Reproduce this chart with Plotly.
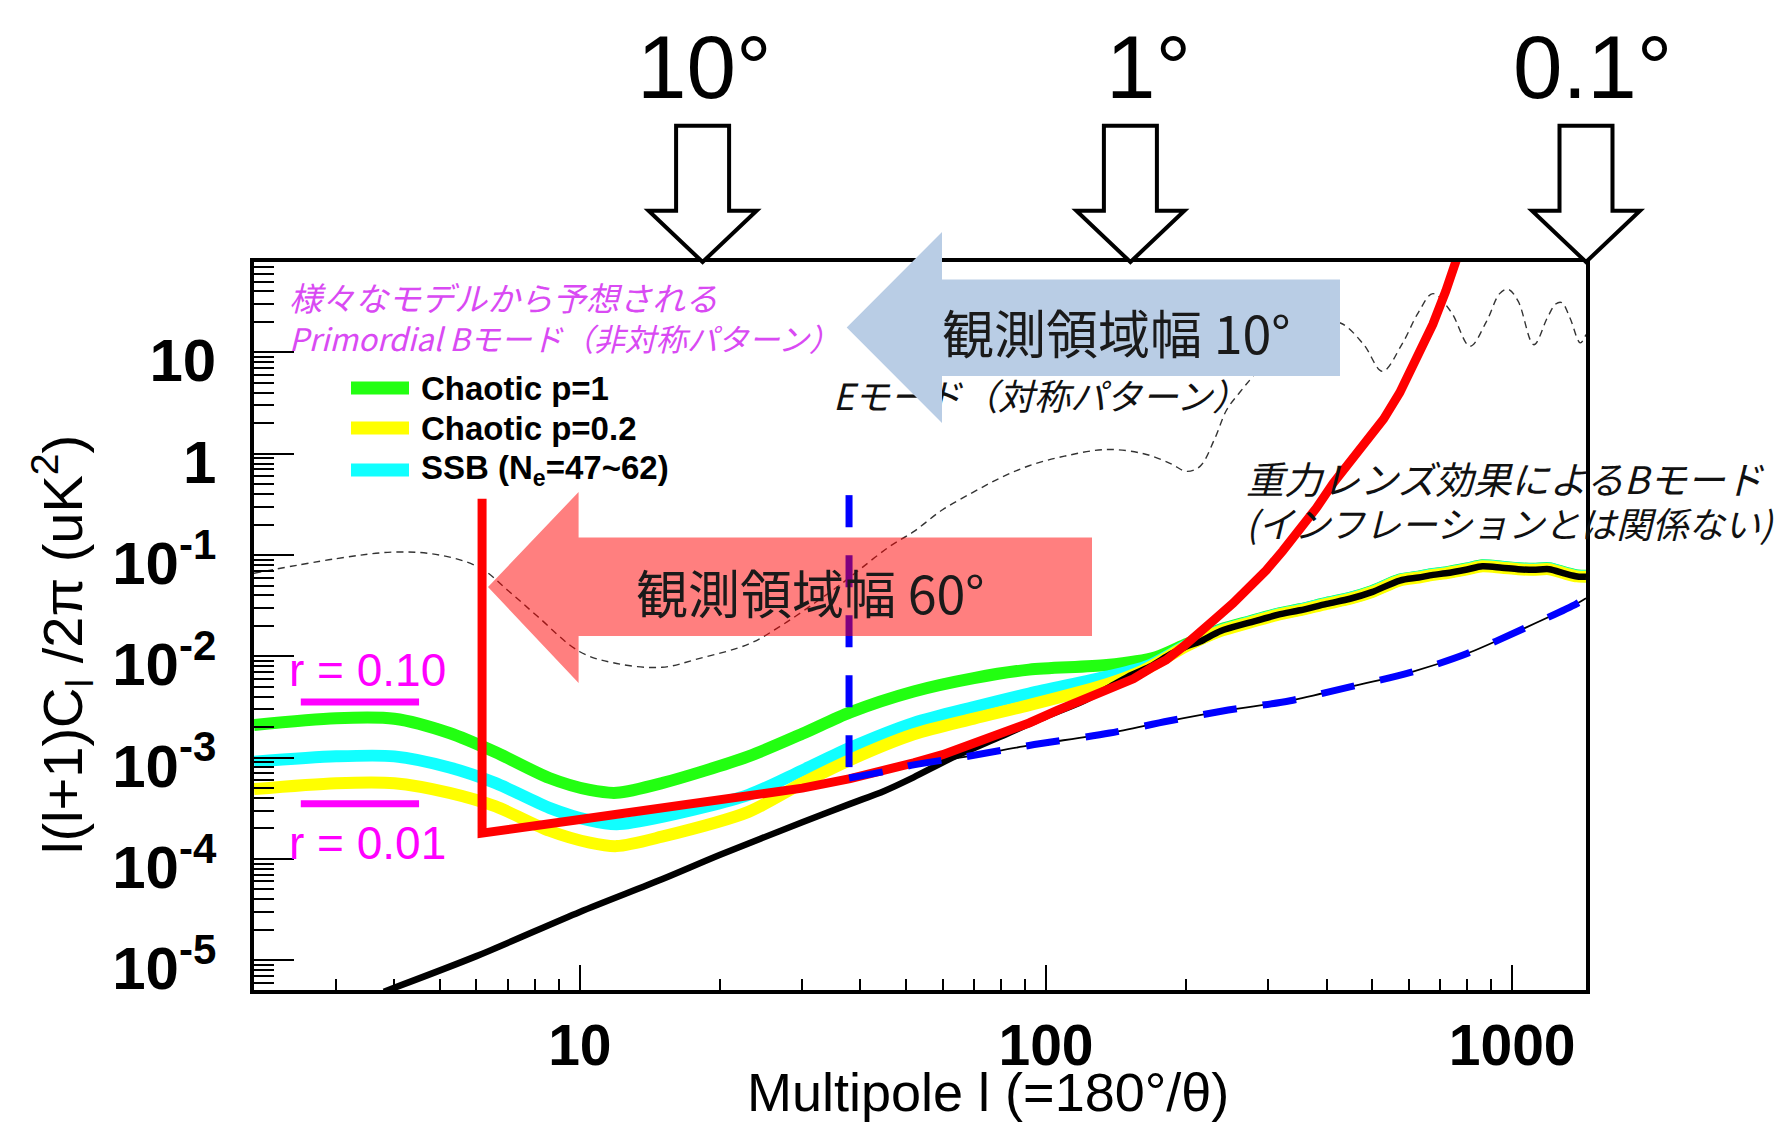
import plotly.graph_objects as go

# ---------------- data ----------------
# E-mode spectrum (thin dashed)
ell_E = [2, 3, 4, 5, 6.1, 7, 8.1, 10, 12, 15, 18, 23, 27, 32, 36, 40, 46, 52, 60, 70, 80, 92, 110, 135,
         162, 185, 200, 214, 230, 244, 260, 278, 320, 370, 428, 480, 527, 580, 630, 676, 740, 812, 880,
         940, 980, 1030, 1113, 1190, 1240, 1278, 1330, 1400, 1440]
cl_E = [0.066, 0.092, 0.107, 0.100, 0.075, 0.045, 0.025, 0.0111, 0.0085, 0.0078, 0.0095, 0.0132, 0.020,
        0.034, 0.05, 0.073, 0.12, 0.17, 0.28, 0.42, 0.58, 0.76, 0.95, 1.1, 1.0, 0.8, 0.67, 0.75, 1.4, 2.7,
        4.0, 5.8, 12, 20, 19.5, 12, 6.5, 12, 25, 38, 25, 11.5, 20, 38, 42, 32, 11.9, 22, 30, 31, 22, 12.4, 15]

# high-l multipoles shared by the model curves
ell_hi = [237, 273, 315, 351, 400, 449, 500, 574, 630, 676, 720, 800, 863, 950, 1030, 1110, 1200, 1300, 1380, 1440]

# Chaotic p=1 (green)
ell_green = [2, 3, 4, 5.25, 6.6, 8.6, 10.5, 12, 15, 23, 30, 38, 52, 70, 92, 135, 172, 200] + ell_hi
cl_green = [2.1e-3, 2.45e-3, 2.42e-3, 1.75e-3, 1.13e-3, 6.3e-4, 4.8e-4, 4.5e-4, 5.6e-4, 1.03e-3, 1.72e-3,
            2.8e-3, 4.5e-3, 6.1e-3, 7.4e-3, 8.2e-3, 9.8e-3, 0.0132,
            0.0184, 0.0221, 0.0264, 0.0292, 0.0337, 0.0378, 0.0440, 0.0572, 0.0613, 0.0651, 0.0674,
            0.0736, 0.0792, 0.0767, 0.0741, 0.0730, 0.0741, 0.0670, 0.0629, 0.0624]

# SSB (cyan)
ell_cyan = [2, 3, 4, 5.25, 6.6, 8.6, 10.5, 12, 15, 23, 30, 38, 52, 70, 92, 135, 165, 200] + ell_hi
cl_cyan = [9.1e-4, 1.03e-3, 1.03e-3, 8.0e-4, 5.6e-4, 3.2e-4, 2.4e-4, 2.2e-4, 2.6e-4, 4.3e-4, 7.5e-4,
           1.25e-3, 2.2e-3, 3.16e-3, 4.3e-3, 6.3e-3, 8.0e-3, 0.0128,
           0.0181, 0.0218, 0.0262, 0.0289, 0.0335, 0.0375, 0.0436, 0.0568, 0.0609, 0.0646, 0.0670,
           0.0731, 0.0786, 0.0761, 0.0736, 0.0725, 0.0736, 0.0665, 0.0624, 0.0619]

# Chaotic p=0.2 (yellow)
ell_yellow = [2, 3, 4, 5.25, 6.6, 8.6, 10.5, 12, 15, 23, 30, 38, 52, 70, 92, 135, 162, 200] + ell_hi
cl_yellow = [4.9e-4, 5.6e-4, 5.6e-4, 4.5e-4, 3.3e-4, 1.9e-4, 1.45e-4, 1.34e-4, 1.66e-4, 2.92e-4, 5.6e-4,
             9.5e-4, 1.7e-3, 2.43e-3, 3.3e-3, 5.3e-3, 7.3e-3, 0.0126,
             0.0178, 0.0215, 0.0258, 0.0285, 0.0330, 0.0370, 0.0430, 0.0560, 0.0600, 0.0637, 0.0660,
             0.0720, 0.0775, 0.0750, 0.0725, 0.0714, 0.0725, 0.0655, 0.0615, 0.0610]

# Gravitational-lensing B-mode (black)
ell_lens = [3.8, 6, 10, 15, 20, 30, 38, 45, 52, 63, 80, 100, 120, 135, 150, 167, 185, 200, 214] + ell_hi
cl_lens = [4.9e-6, 1.1e-5, 3.0e-5, 6.3e-5, 1.1e-4, 2.3e-4, 3.5e-4, 4.7e-4, 6.4e-4, 1.0e-3, 1.62e-3,
           2.55e-3, 3.6e-3, 4.8e-3, 6.3e-3, 7.9e-3, 0.0105, 0.0125, 0.0140,
           0.0178, 0.0215, 0.0258, 0.0285, 0.0330, 0.0370, 0.0430, 0.0560, 0.0600, 0.0637, 0.0660,
           0.0720, 0.0775, 0.0750, 0.0725, 0.0714, 0.0725, 0.0655, 0.0615, 0.0610]

# 60 deg survey sensitivity (red)
ell_red = [6.17, 6.17, 10, 15, 20, 30, 38, 45, 52, 60, 70, 80, 92, 106, 122, 138, 154, 170, 181, 197, 214,
           232, 252, 274, 297, 322, 351, 380, 413, 448, 487, 530, 574, 625, 676, 720, 753, 790]
cl_red = [0.36, 1.8e-4, 2.45e-4, 3.2e-4, 3.9e-4, 5.0e-4, 6.2e-4, 7.4e-4, 8.9e-4, 1.07e-3, 1.38e-3, 1.7e-3,
          2.2e-3, 2.95e-3, 3.9e-3, 5.0e-3, 6.0e-3, 7.9e-3, 9.2e-3, 0.0125, 0.0169, 0.024, 0.0335, 0.049,
          0.071, 0.11, 0.177, 0.29, 0.51, 0.82, 1.28, 2.2, 4.0, 8.5, 19, 40, 77, 140]

# 10 deg survey sensitivity (blue dashed)
ell_blue_edge = [37.8, 37.8]
cl_blue_edge = [0.39, 6.3e-4]
ell_blue = [37.8, 45, 52, 67, 92, 137, 183, 246, 334, 449, 603, 798, 1064, 1374, 1440]
cl_blue = [6.3e-4, 7.3e-4, 8.5e-4, 1.02e-3, 1.32e-3, 1.75e-3, 2.3e-3, 2.95e-3, 3.65e-3, 5.0e-3, 6.9e-3,
           1.06e-2, 1.9e-2, 3.3e-2, 3.75e-2]
# thin black line under the blue dashed one
ell_thin = [35.5] + ell_blue
cl_thin = [6.2e-4] + cl_blue

# tensor-to-scalar ratio markers
r_labels = ["r = 0.10", "r = 0.01"]
r_ell = [2.52, 4.52]
r_levels = [3.55e-3, 3.5e-4]

legend_labels = ["Chaotic p=1", "Chaotic p=0.2", "SSB (N<sub>e</sub>=47~62)"]
legend_colors = ["#22FF11", "#FFFF00", "#11FFFF"]

angle_labels = ["10°", "1°", "0.1°"]

x_ticks = [10, 100, 1000]
x_ticktext = ["10", "100", "1000"]
y_ticks = [1e-5, 1e-4, 1e-3, 1e-2, 1e-1, 1, 10]
y_ticktext = ["10<sup>-5</sup>", "10<sup>-4</sup>", "10<sup>-3</sup>", "10<sup>-2</sup>",
              "10<sup>-1</sup>", "1", "10"]

# ---------------- layout helpers ----------------
W, H = 1784, 1124
PL, PR, PT, PB = 254, 1586, 262, 990


def fx(x):
    return (x - PL) / (PR - PL)


def fy(y):
    return (PB - y) / (PB - PT)


def path(points):
    s = "M " + " L ".join(f"{fx(x):.5f},{fy(y):.5f}" for x, y in points) + " Z"
    return s


JP = "Noto Sans CJK JP"
SANS = "Liberation Sans, Arial, sans-serif"
MAGENTA = "#FF00FF"
VIOLET = "#D94AF3"

fig = go.Figure()


def line(x, y, color, width, dash=None, shape="spline", smoothing=0.8):
    fig.add_trace(go.Scatter(x=x, y=y, mode="lines",
                             line=dict(color=color, width=width, dash=dash, shape=shape,
                                       smoothing=smoothing if shape == "spline" else None),
                             hoverinfo="skip", showlegend=False))


line(ell_E, cl_E, "#333333", 1.4, dash="7px,5px", smoothing=1.0)
line(ell_thin, cl_thin, "#000000", 1.8)
line(ell_green, cl_green, legend_colors[0], 12)
line(ell_cyan, cl_cyan, legend_colors[2], 12)
line(ell_yellow, cl_yellow, legend_colors[1], 12)
line(ell_lens, cl_lens, "#000000", 6.5)
line(ell_red, cl_red, "#FF0000", 9, shape="linear")
line(ell_blue_edge, cl_blue_edge, "#0000FF", 7, dash="32px,28px", shape="linear")
line(ell_blue, cl_blue, "#0000FF", 7, dash="34px,26px")
for lev in r_levels:
    line(r_ell, [lev, lev], MAGENTA, 7, shape="linear")

# E-mode label as a text trace (partly hidden under the blue arrow like the original)
fig.add_trace(go.Scatter(x=[34.9], y=[3.3], mode="text", text=["Eモード（対称パターン）"],
                         textposition="middle right", cliponaxis=False,
                         textfont=dict(family=JP, size=36, color="#111111", style="italic"),
                         hoverinfo="skip", showlegend=False))

shapes = []
# pink (60 deg) arrow, semi transparent
shapes.append(dict(type="path", xref="paper", yref="paper", layer="above",
                   path=path([(488, 587), (578.6, 492), (578.6, 537.5), (1092, 537.5), (1092, 636),
                              (578.6, 636), (578.6, 683)]),
                   fillcolor="rgba(255,0,0,0.5)", line=dict(width=0)))
# blue (10 deg) arrow
shapes.append(dict(type="path", xref="paper", yref="paper", layer="above",
                   path=path([(846.7, 327.5), (942, 232), (942, 279.6), (1340, 279.6), (1340, 376),
                              (942, 376), (942, 423)]),
                   fillcolor="#B9CDE5", line=dict(width=0)))
# hollow arrows at the top
for cx in [702.6, 1130.4, 1586]:
    shapes.append(dict(type="path", xref="paper", yref="paper", layer="above",
                       path=path([(cx - 26.5, 125.7), (cx + 26.5, 125.7), (cx + 26.5, 210.7),
                                  (cx + 54, 210.7), (cx, 262), (cx - 54, 210.7), (cx - 26.5, 210.7)]),
                       fillcolor="white", line=dict(color="black", width=4)))
# legend bars
legend_rows = [388, 428, 470]
for c, yc in zip(legend_colors, legend_rows):
    shapes.append(dict(type="rect", xref="paper", yref="paper", layer="above",
                       x0=fx(351), x1=fx(409), y0=fy(yc - 6.5), y1=fy(yc + 6.5),
                       fillcolor=c, line=dict(width=0)))

ann = []


def text(t, x, y, size, color="black", family=SANS, xanchor="center", style="normal",
         weight="normal", angle=0):
    ann.append(dict(text=t, x=fx(x), y=fy(y), xref="paper", yref="paper", xanchor=xanchor,
                    yanchor="middle", showarrow=False, textangle=angle,
                    font=dict(family=family, size=size, color=color, style=style, weight=weight)))


for lab, cx in zip(angle_labels, [704, 1148, 1593]):
    text(lab, cx, 67, 89)

text("観測領域幅 10°", 1116, 331, 52, color="#1a1a1a", family=JP)
text("観測領域幅 60°", 810, 591, 52, color="#1a1a1a", family=JP)

text("様々なモデルから予想される", 287, 297, 33, color=VIOLET, family=JP, xanchor="left", style="italic")
text("Primordial Bモード（非対称パターン）", 287, 337, 31, color=VIOLET, family=JP, xanchor="left",
     style="italic")

for lab, yc in zip(legend_labels, legend_rows):
    text(lab, 419, yc, 33, xanchor="left", weight="bold")

text(r_labels[0], 287, 670, 46, color=MAGENTA, xanchor="left")
text(r_labels[1], 287, 843, 46, color=MAGENTA, xanchor="left")

text("重力レンズ効果によるBモード", 1244, 477, 38, color="#111111", family=JP, xanchor="left",
     style="italic")
text("(インフレーションとは関係ない)", 1244, 522, 36, color="#111111", family=JP, xanchor="left",
     style="italic")

# axis titles (ROOT style, right aligned)
text("Multipole l (=180°/θ)", 988, 1092, 54)
text("l(l+1)C<sub>l</sub> /2π (uK<sup>2</sup>)", 62, 645, 56, angle=-90)

minor_x = [k * 10 ** d for d in range(0, 4) for k in range(2, 10) if 2 <= k * 10 ** d <= 1440]
minor_y = [k * 10.0 ** d for d in range(-6, 2) for k in range(2, 10) if 4.9e-6 <= k * 10.0 ** d <= 78]

fig.update_layout(
    width=W, height=H, autosize=False,
    margin=dict(l=PL, r=W - PR, t=PT, b=H - PB),
    plot_bgcolor="white", paper_bgcolor="white",
    shapes=shapes, annotations=ann, showlegend=False,
    xaxis=dict(type="log", range=[0.30103, 3.1584], showgrid=False, zeroline=False,
               showline=True, linecolor="black", linewidth=3.5, mirror=True,
               tickmode="array", tickvals=x_ticks, ticktext=x_ticktext,
               ticks="inside", ticklen=25, tickwidth=2, tickcolor="black",
               ticklabelstandoff=3,
               tickfont=dict(family=SANS, size=57, color="black", weight="bold"),
               minor=dict(tickmode="array", tickvals=minor_x, ticks="inside", ticklen=11,
                          tickwidth=2, tickcolor="black", showgrid=False)),
    yaxis=dict(type="log", range=[-5.293, 1.892], showgrid=False, zeroline=False,
               showline=True, linecolor="black", linewidth=3.5, mirror=True,
               tickmode="array", tickvals=y_ticks, ticktext=y_ticktext,
               ticks="inside", ticklen=40, tickwidth=2, tickcolor="black",
               ticklabelstandoff=22, ticklabelshift=8,
               tickfont=dict(family=SANS, size=60, color="black", weight="bold"),
               minor=dict(tickmode="array", tickvals=minor_y, ticks="inside", ticklen=20,
                          tickwidth=2, tickcolor="black", showgrid=False)),
)

fig.write_html("out.html", config={"displayModeBar": False},
               post_script="document.body.style.margin='0px';")
